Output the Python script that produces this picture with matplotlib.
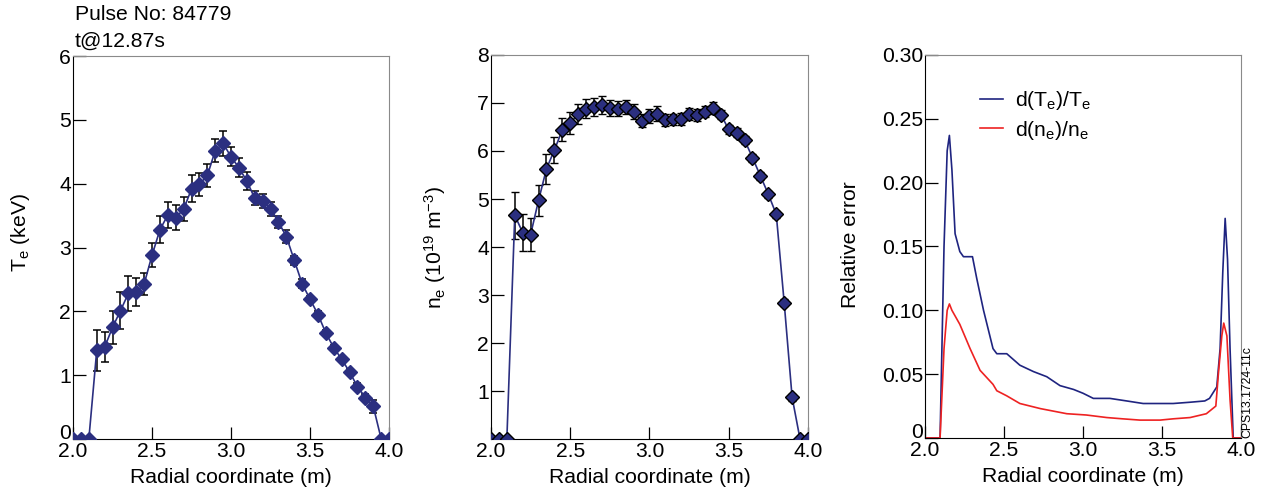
"""Te, ne profiles and relative errors, pulse 84779"""

import matplotlib
matplotlib.use('Agg')
import matplotlib.pyplot as plt
import numpy as np

plt.rcParams['font.family'] = ['Liberation Sans', 'DejaVu Sans']
plt.rcParams['mathtext.fontset'] = 'custom'
plt.rcParams['mathtext.rm'] = 'Liberation Sans'
plt.rcParams['mathtext.it'] = 'Liberation Sans'
plt.rcParams['mathtext.default'] = 'regular'

# radial grid of the profile points
r_prof = [2.00, 2.05, 2.10, 2.15, 2.20, 2.25, 2.30, 2.35, 2.40, 2.45,
          2.50, 2.55, 2.60, 2.65, 2.70, 2.75, 2.80, 2.85, 2.90, 2.95,
          3.00, 3.05, 3.10, 3.15, 3.20, 3.25, 3.30, 3.35, 3.40, 3.45,
          3.50, 3.55, 3.60, 3.65, 3.70, 3.75, 3.80, 3.85, 3.90, 3.95, 4.00]

te = [0, 0, 0, 1.39, 1.44, 1.75, 2.01, 2.28, 2.30, 2.43,
      2.88, 3.28, 3.51, 3.47, 3.60, 3.92, 3.99, 4.13, 4.52, 4.63,
      4.42, 4.25, 4.04, 3.77, 3.73, 3.61, 3.40, 3.17, 2.80, 2.43,
      2.19, 1.95, 1.66, 1.43, 1.25, 1.05, 0.82, 0.65, 0.51, 0, 0]
te_err = [0, 0, 0, 0.32, 0.23, 0.26, 0.29, 0.27, 0.22, 0.17,
          0.19, 0.21, 0.21, 0.20, 0.19, 0.21, 0.18, 0.18, 0.18, 0.19,
          0.15, 0.15, 0.14, 0.11, 0.11, 0.11, 0.10, 0.10, 0.07, 0.07,
          0.05, 0.05, 0.05, 0.05, 0.05, 0.05, 0.05, 0.05, 0.10, 0, 0]

ne = [0, 0, 0, 4.66, 4.30, 4.26, 4.97, 5.63, 6.02, 6.44,
      6.58, 6.77, 6.88, 6.92, 6.96, 6.89, 6.88, 6.92, 6.82, 6.63,
      6.73, 6.78, 6.65, 6.66, 6.67, 6.77, 6.75, 6.82, 6.90, 6.76,
      6.45, 6.38, 6.23, 5.86, 5.48, 5.10, 4.68, 2.84, 0.87, 0, 0]
ne_err = [0, 0, 0, 0.49, 0.38, 0.34, 0.32, 0.31, 0.27, 0.24,
          0.23, 0.20, 0.20, 0.19, 0.19, 0.17, 0.16, 0.15, 0.15, 0.14,
          0.14, 0.15, 0.13, 0.12, 0.12, 0.12, 0.12, 0.12, 0.12, 0.10,
          0.10, 0.09, 0.09, 0.08, 0.08, 0.07, 0.07, 0.07, 0.07, 0, 0]

# relative error curves
r_err_te = [2.00, 2.095, 2.12, 2.14, 2.154, 2.17, 2.19, 2.22, 2.243, 2.30,
            2.327, 2.37, 2.43, 2.454, 2.517, 2.60, 2.686, 2.77, 2.854, 2.94,
            3.00, 3.065, 3.17, 3.276, 3.38, 3.487, 3.57, 3.677, 3.77, 3.80,
            3.846, 3.867, 3.884, 3.899, 3.914, 3.93, 3.95, 4.00]
rel_te = [0, 0, 0.15, 0.225, 0.237, 0.21, 0.160, 0.146, 0.142, 0.142,
          0.125, 0.100, 0.070, 0.066, 0.066, 0.057, 0.052, 0.048, 0.041, 0.038,
          0.035, 0.031, 0.031, 0.029, 0.027, 0.027, 0.027, 0.028, 0.029, 0.031,
          0.040, 0.070, 0.130, 0.172, 0.140, 0.070, 0, 0]

r_err_ne = [2.00, 2.095, 2.12, 2.14, 2.154, 2.17, 2.22, 2.285, 2.348, 2.43,
            2.454, 2.517, 2.60, 2.73, 2.897, 3.02, 3.15, 3.25, 3.36, 3.487,
            3.57, 3.677, 3.78, 3.84, 3.856, 3.878, 3.89, 3.91, 3.93, 3.947, 4.00]
rel_ne = [0, 0, 0.07, 0.100, 0.105, 0.100, 0.089, 0.070, 0.053, 0.042,
          0.037, 0.033, 0.027, 0.023, 0.019, 0.018, 0.016, 0.015, 0.014, 0.014,
          0.015, 0.016, 0.019, 0.025, 0.050, 0.080, 0.090, 0.080, 0.030, 0, 0]

navy = '#2b2f80'
grey = '#8a8a8a'
fs = 15.2


def style_axes(ax):
    for s in ['top', 'right']:
        ax.spines[s].set_color(grey)
    for s in ['left', 'bottom']:
        ax.spines[s].set_color('black')
    ax.tick_params(direction='in', length=9, width=0.9, labelsize=fs, pad=2)
    ax.tick_params(axis='y', pad=1.5)
    ax.set_xlim(2.0, 4.0)
    ax.set_xticks([2.0, 2.5, 3.0, 3.5, 4.0])
    ax.set_xticklabels(['2.0', '2.5', '3.0', '3.5', '4.0'])
    ax.set_xlabel('Radial coordinate (m)', fontsize=fs, labelpad=5)


fig = plt.figure(figsize=(12.77, 4.95), dpi=100)
ax1 = fig.add_axes([0.0572, 0.1131, 0.2475, 0.7737])
ax2 = fig.add_axes([0.3845, 0.1131, 0.2482, 0.7758])
ax3 = fig.add_axes([0.7244, 0.1152, 0.2475, 0.7737])

# Te
ax1.errorbar(r_prof, te, yerr=te_err, fmt='D-', color=navy, ms=7.5,
             mfc=navy, mec=navy, lw=1.2, ecolor='black', elinewidth=1.1,
             capsize=3, capthick=1.1, zorder=3)
style_axes(ax1)
ax1.set_ylim(0, 6)
ax1.set_yticks([0, 1, 2, 3, 4, 5, 6])
ax1.set_yticks([0], minor=True)
ax1.tick_params(axis='y', which='minor', direction='out', length=19, width=0.9)
ax1.set_ylabel('T$_e$ (keV)', fontsize=fs)
ax1.yaxis.set_label_coords(-0.13, 0.54)
ax1.get_yticklabels()[0].set_va('baseline')

# ne
ax2.errorbar(r_prof, ne, yerr=ne_err, fmt='D-', color=navy, ms=7.5,
             mfc=navy, mec='black', mew=1.0, lw=1.2, ecolor='black',
             elinewidth=1.1, capsize=3, capthick=1.1, zorder=3)
style_axes(ax2)
ax2.set_ylim(0, 8)
ax2.set_yticks([1, 2, 3, 4, 5, 6, 7, 8])
ax2.set_ylabel('n$_e$ (10$^{19}$ m$^{-3}$)', fontsize=fs)
ax2.yaxis.set_label_coords(-0.136, 0.5)

# relative errors
ax3.plot(r_err_te, rel_te, color='#1f2480', lw=1.2, label='d(T$_e$)/T$_e$')
ax3.plot(r_err_ne, rel_ne, color='#ee2222', lw=1.2, label='d(n$_e$)/n$_e$')
style_axes(ax3)
ax3.set_ylim(0, 0.30)
ax3.set_yticks([0, 0.05, 0.10, 0.15, 0.20, 0.25, 0.30])
ax3.set_yticklabels(['0', '0.05', '0.10', '0.15', '0.20', '0.25', '0.30'])
ax3.get_yticklabels()[0].set_va('baseline')
ax3.set_ylabel('Relative error', fontsize=fs)
ax3.yaxis.set_label_coords(-0.206, 0.505)
ax3.legend(loc='upper left', bbox_to_anchor=(0.174, 0.91), frameon=False,
           fontsize=fs, handlelength=1.1, handletextpad=0.55, labelspacing=0.3,
           borderpad=0, borderaxespad=0)

fig.text(1247 / 1277, 0.115, 'CPS13.1724-11c', rotation=90, fontsize=8.8,
         ha='center', va='bottom')
fig.text(0.0587, 0.970, 'Pulse No: 84779', fontsize=fs, va='center')
fig.text(0.0587, 0.917, 't@12.87s', fontsize=fs, va='center')

plt.savefig('out.png', dpi=100)
plt.close()
